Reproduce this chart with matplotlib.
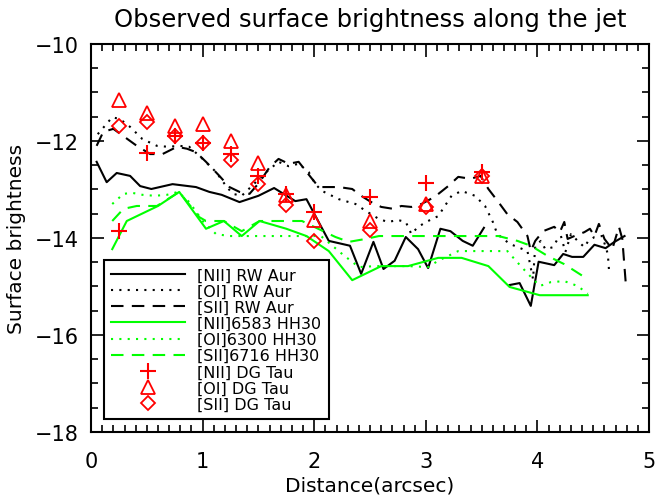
import numpy as np
import matplotlib
matplotlib.use("Agg")
import matplotlib.pyplot as plt
from matplotlib.ticker import MultipleLocator

nan = np.nan

# [NII] RW Aur (black solid)
nii_rw_x = [0.05, 0.14, 0.23, 0.35, 0.44, 0.54, 0.73, 0.94, 1.06, 1.17, 1.33, 1.50, 1.64, 1.83, 1.93,
            2.13, 2.32, 2.42, 2.53, 2.62, 2.72, 2.82, 2.93, 3.02, 3.13, 3.22, 3.33, 3.42, 3.52, nan,
            3.75, 3.84, 3.94, 4.01, 4.15, 4.23, 4.31, 4.41, 4.51, 4.61, 4.69, 4.78]
nii_rw_y = [-12.43, -12.85, -12.66, -12.72, -12.93, -12.99, -12.89, -12.95, -13.05, -13.11, -13.26, -13.13, -12.97, -13.24, -13.20,
            -14.06, -14.16, -14.74, -14.08, -14.64, -14.47, -13.98, -14.23, -14.62, -13.81, -13.86, -14.06, -14.16, -13.79, nan,
            -14.97, -14.93, -15.40, -14.49, -14.56, -14.33, -14.39, -14.39, -14.14, -14.21, -14.08, -13.96]

# [OI] RW Aur (black dotted)
oi_rw_x = [0.06, 0.19, 0.26, 0.35, 0.46, 0.59, 0.69, 0.79, 0.88, 1.00, 1.12, 1.21, 1.27, 1.35, 1.44, 1.57, 1.68, 1.77,
           1.86, 1.95, 2.01, 2.07, 2.22, 2.37, 2.46, 2.58, 2.66, 2.75, 2.82, 2.87, 2.93, 3.02, 3.11, 3.23, 3.32, 3.44,
           3.53, 3.60, 3.64, 3.75, 3.91, 3.96, 3.98, 4.03, 4.07, 4.14, 4.18, 4.21, 4.25, 4.30, 4.36, 4.42, 4.45, 4.51,
           4.58, 4.63, 4.64]
oi_rw_y = [-11.86, -11.51, -11.55, -11.71, -11.96, -12.10, -12.12, -12.10, -12.12, -12.37, -12.64, -12.93, -13.09, -13.13, -12.93, -12.64, -12.43, -12.52,
           -12.47, -12.64, -12.89, -13.03, -13.20, -13.30, -13.44, -13.61, -13.67, -13.63, -13.67, -13.92, -13.77, -13.65, -13.55, -13.13, -13.03, -13.13,
           -13.34, -13.67, -13.92, -14.12, -14.27, -14.85, -14.16, -14.06, -14.23, -14.19, -14.02, -13.96, -14.29, -13.92, -14.06, -14.19, -14.08, -13.98,
           -13.96, -14.33, -14.64]

# [SII] RW Aur (black dashed)
sii_rw_x = [0.05, 0.11, 0.20, 0.29, 0.41, 0.53, 0.64, 0.77, 0.86, 0.94, 1.03, 1.15, 1.24, 1.33, 1.42, 1.51, 1.60, 1.68, 1.77,
            1.86, 1.98, 2.04, 2.22, 2.34, 2.42, 2.51, 2.60, 2.71, 2.78, 2.87, 2.96, 3.08, 3.20, 3.29, 3.40, 3.49, 3.56,
            3.65, 3.73, 3.82, 3.91, 3.94, 3.98, 4.05, 4.15, 4.20, 4.24, 4.27, 4.33, 4.42, 4.47, 4.51, 4.55, 4.60, 4.67,
            4.73, 4.76, 4.79]
sii_rw_y = [-12.10, -11.81, -11.75, -11.90, -12.10, -12.27, -12.27, -12.12, -12.16, -12.23, -12.43, -12.72, -12.95, -13.05, -13.09, -12.85, -12.54, -12.37, -12.47,
            -12.43, -12.78, -12.95, -12.95, -12.99, -13.13, -13.26, -13.36, -13.40, -13.34, -13.36, -13.30, -13.15, -12.93, -12.74, -12.78, -12.72, -12.99,
            -13.26, -13.51, -13.67, -13.96, -14.27, -14.06, -13.86, -13.77, -13.88, -13.67, -14.02, -13.96, -13.88, -13.81, -13.96, -13.71, -14.02, -14.23,
            -13.77, -14.02, -14.91]

# [NII]6583 HH30 (green solid)
nii_hh_x = [0.19, 0.32, 0.60, 0.79, 1.03, 1.19, 1.35, 1.51, 1.75, 1.93, 2.13, 2.34, 2.60, 2.84, 3.11, 3.32, 3.56, 3.75, 4.02, 4.45]
nii_hh_y = [-14.23, -13.65, -13.34, -13.05, -13.81, -13.65, -13.96, -13.65, -13.81, -13.96, -14.27, -14.87, -14.58, -14.58, -14.41, -14.41, -14.58, -15.01, -15.18, -15.18]

# [OI]6300 HH30 (green dotted)
oi_hh_x = [0.19, 0.29, 0.37, 0.46, 0.57, 0.68, 0.78, 0.88, 1.00, 1.12, 1.24, 2.06, 2.26, 2.40, 2.55, 2.84, 3.02, 3.11, 3.29,
           3.73, 3.85, 3.94, 4.02, 4.12, 4.24, 4.36, 4.45]
oi_hh_y = [-13.30, -13.09, -13.07, -13.11, -13.13, -13.11, -13.05, -13.26, -13.65, -13.92, -13.96, -13.96, -14.35, -14.60, -14.58, -14.58, -14.60, -14.47, -14.27,
           -14.27, -14.58, -14.80, -14.99, -14.91, -14.89, -14.99, -15.15]

# [SII]6716 HH30 (green dashed)
sii_hh_x = [0.19, 0.29, 0.41, 0.59, 0.79, 0.97, 1.03, 1.19, 1.35, 1.51, 1.89, 1.98, 2.19, 2.31, 2.46, 2.58, 3.65, 3.82, 3.94, 4.09, 4.24, 4.45]
sii_hh_y = [-13.65, -13.40, -13.34, -13.34, -13.05, -13.57, -13.65, -13.65, -13.86, -13.65, -13.65, -13.75, -13.98, -14.08, -14.02, -13.96, -13.96, -14.06, -14.16, -14.37, -14.54, -14.85]

# DG Tau points
dg_x = [0.25, 0.5, 0.75, 1.0, 1.25, 1.5, 1.75, 2.0, 2.5, 3.0, 3.5]
nii_dg = [-13.86, -12.25, -11.89, -12.04, -12.27, -12.72, -13.09, -13.46, -13.15, -12.87, -12.64]
oi_dg = [-11.16, -11.42, -11.70, -11.65, -12.00, -12.45, -13.11, -13.63, -13.65, -13.30, -12.72]
sii_dg = [-11.69, -11.61, -11.90, -12.04, -12.39, -12.89, -13.32, -14.06, -13.84, -13.36, -12.72]

labels = ["[NII] RW Aur", "[OI] RW Aur", "[SII] RW Aur",
          "[NII]6583 HH30", "[OI]6300 HH30", "[SII]6716 HH30",
          "[NII] DG Tau", "[OI] DG Tau", "[SII] DG Tau"]

plt.rcParams['font.family'] = ['DejaVu Sans']

fig = plt.figure(figsize=(6.55, 5.02), dpi=100)
ax = fig.add_axes([0.139, 0.1375, 0.852, 0.7729])

green = '#00ff00'
red = '#ff0000'
lw = 1.5
dot = (0, (1, 3))
dash = (0, (6, 4))

ax.plot(nii_rw_x, nii_rw_y, color='black', lw=lw, ls='-', label=labels[0])
ax.plot(oi_rw_x, oi_rw_y, color='black', lw=lw, ls=dot, label=labels[1])
ax.plot(sii_rw_x, sii_rw_y, color='black', lw=lw, ls=dash, label=labels[2])
ax.plot(nii_hh_x, nii_hh_y, color=green, lw=lw, ls='-', label=labels[3])
ax.plot(oi_hh_x, oi_hh_y, color=green, lw=lw, ls=dot, label=labels[4])
ax.plot(sii_hh_x, sii_hh_y, color=green, lw=lw, ls=dash, label=labels[5])
ax.plot(dg_x, nii_dg, ls='none', marker='+', ms=11, mew=1.5, color=red, label=labels[6])
ax.plot(dg_x, oi_dg, ls='none', marker='^', ms=10, mew=1.3, mfc='none', mec=red, label=labels[7])
ax.plot(dg_x, sii_dg, ls='none', marker='D', ms=7.5, mew=1.3, mfc='none', mec=red, label=labels[8])

ax.set_xlim(0, 5)
ax.set_ylim(-18, -10)
ax.xaxis.set_major_locator(MultipleLocator(1))
ax.xaxis.set_minor_locator(MultipleLocator(0.1))
ax.yaxis.set_major_locator(MultipleLocator(2))
ax.yaxis.set_minor_locator(MultipleLocator(0.5))
ax.tick_params(which='both', direction='in', top=True, right=True, width=1.2)
ax.tick_params(which='major', length=9, labelsize=15)
ax.tick_params(axis='x', which='major', pad=14)
ax.tick_params(axis='y', which='major', pad=9)
ax.tick_params(which='minor', length=5)
for s in ax.spines.values():
    s.set_linewidth(1.5)

ax.set_title("Observed surface brightness along the jet", fontsize=17.5, pad=13)
ax.set_xlabel("Distance(arcsec)", fontsize=14.5, labelpad=3)
ax.set_ylabel("Surface brightness", fontsize=14.5, labelpad=6)

leg = ax.legend(loc='lower left', bbox_to_anchor=(0.023, 0.034), fontsize=11.5,
                handlelength=4.6, handletextpad=0.8, labelspacing=0.07,
                borderpad=0.45, borderaxespad=0, fancybox=False, framealpha=1,
                edgecolor='black', numpoints=1)
leg.get_frame().set_linewidth(1.5)

fig.savefig("out.png", dpi=100)
